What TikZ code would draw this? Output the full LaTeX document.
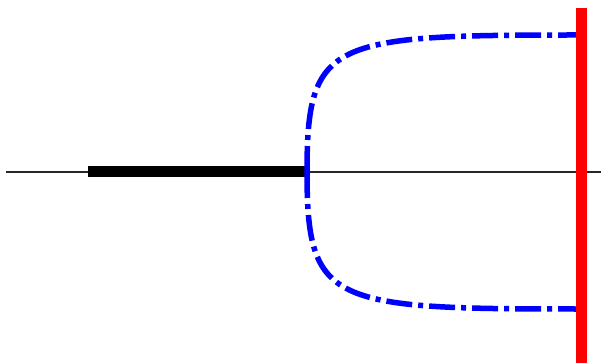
\documentclass[tikz,border=0pt]{standalone}
\usepackage{amsmath, amssymb, amsfonts}
\usetikzlibrary{calc}

\tikzset{
    axisline/.style={line width=1.1pt, black!85},
    cutbar/.style={line width=11pt, black},
    wallbar/.style={line width=11pt, red},
    branch/.style={line width=5.5pt, blue, dash pattern=on 26pt off 6pt on 5pt off 6pt}
}

\begin{document}
\begin{tikzpicture}[x=1pt, y=-1pt]
    \useasboundingbox (0,0) rectangle (602,363);
    \coordinate (axL) at (6,172);
    \coordinate (axR) at (601,172);
    \coordinate (cutL) at (88,172);
    \coordinate (tip) at (307,172);
    \coordinate (topEnd) at (577,35);
    \coordinate (botEnd) at (577,309);
    \coordinate (wallT) at (581.5,8);
    \coordinate (wallB) at (581.5,363);
    \draw[axisline] (axL) -- (axR);
    \draw[cutbar] (cutL) -- (tip);
    \draw[branch] (tip) .. controls (307,40) and (330,35) .. (topEnd);
    \draw[branch] (tip) .. controls (307,304) and (330,309) .. (botEnd);
    \draw[wallbar] (wallT) -- (wallB);
\end{tikzpicture}
\end{document}
